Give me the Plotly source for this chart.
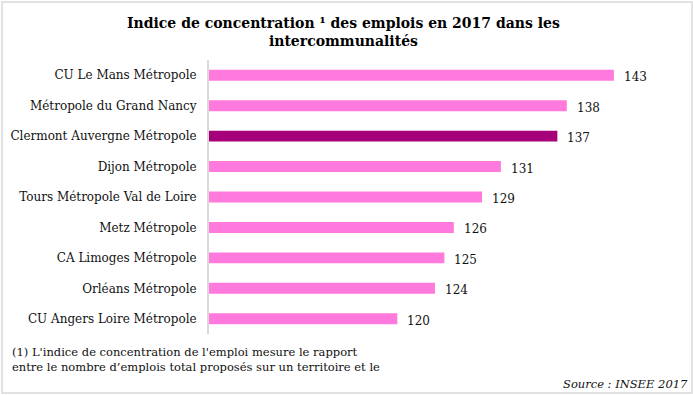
import plotly.graph_objects as go

categories = [
    "CU Le Mans Métropole",
    "Métropole du Grand Nancy",
    "Clermont Auvergne Métropole",
    "Dijon Métropole",
    "Tours Métropole Val de Loire",
    "Metz Métropole",
    "CA Limoges Métropole",
    "Orléans Métropole",
    "CU Angers Loire Métropole",
]
values = [143, 138, 137, 131, 129, 126, 125, 124, 120]
highlight = "Clermont Auvergne Métropole"

PINK = "#FF7ADC"
DARK = "#A6007B"
colors = [DARK if c == highlight else PINK for c in categories]

FONT = "DejaVu Serif"
W, H = 693, 395
L, R, T, B = 209, 17, 60, 61
pw = W - L - R
ph = H - T - B

def px2x(px):
    return (px - L) / pw

def py2y(py):
    return (H - B - py) / ph

fig = go.Figure()
fig.add_trace(go.Bar(
    y=categories, x=values, orientation="h",
    marker=dict(color=colors, line=dict(width=0)),
    width=0.36,
))

for c, v in zip(categories, values):
    fig.add_annotation(x=v, y=c, text=str(v), showarrow=False,
                       xanchor="left", xshift=8, yshift=-2,
                       font=dict(family=FONT, size=12, color="#111111"))

fig.add_annotation(xref="paper", yref="paper", x=px2x(343), y=py2y(32),
                   text="<b>Indice de concentration ¹ des emplois en 2017 dans les<br>intercommunalités</b>",
                   showarrow=False, xanchor="center", yanchor="middle",
                   font=dict(family=FONT, size=14, color="#000000"))

fig.add_annotation(xref="paper", yref="paper", x=px2x(10), y=py2y(359),
                   text="(1) L'indice de concentration de l'emploi mesure le rapport<br>entre le nombre d’emplois total proposés sur un territoire et le",
                   showarrow=False, xanchor="left", yanchor="middle", align="left",
                   font=dict(family=FONT, size=11.5, color="#111111"))

fig.add_annotation(xref="paper", yref="paper", x=px2x(690), y=py2y(384),
                   text="<i>Source : INSEE 2017</i>",
                   showarrow=False, xanchor="right", yanchor="middle",
                   font=dict(family=FONT, size=11.5, color="#111111"))

fig.add_shape(type="rect", xref="paper", yref="paper",
              x0=px2x(2), x1=px2x(692), y0=py2y(393), y1=py2y(2),
              line=dict(color="#D9D9D9", width=1.5), layer="below")

fig.update_layout(
    width=W, height=H,
    margin=dict(l=L, r=R, t=T, b=B, autoexpand=False),
    paper_bgcolor="white", plot_bgcolor="white",
    showlegend=False,
    xaxis=dict(range=[100, 149.6], visible=False, fixedrange=True, automargin=False),
    yaxis=dict(autorange="reversed", showline=True, linecolor="#D9D9D9", linewidth=2,
               automargin=False, ticks="", ticklabelstandoff=8, showgrid=False,
               tickfont=dict(family=FONT, size=12, color="#111111")),
)

fig.write_html("out.html")
